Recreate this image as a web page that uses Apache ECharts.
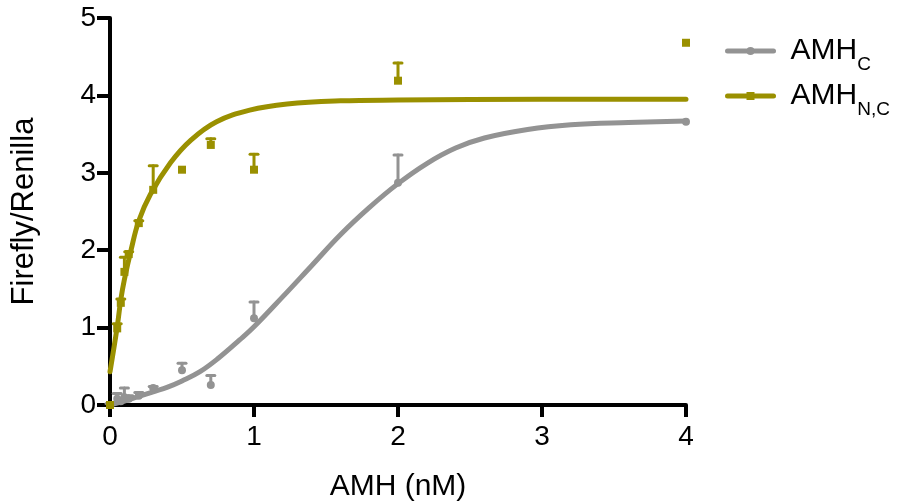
<!DOCTYPE html>
<html>
<head>
<meta charset="utf-8">
<script src="https://cdn.jsdelivr.net/npm/echarts@6/dist/echarts.min.js"></script>
<style>
  html, body { margin: 0; padding: 0; background: #fff; }
  #chart { width: 900px; height: 504px; }
</style>
</head>
<body>
<div id="chart"></div>
<script>
// Concentrations (nM) at which luciferase activity was measured
const doses = [0, 0.05, 0.075, 0.1, 0.13, 0.2, 0.3, 0.5, 0.7, 1, 2, 4];

// AMH_C: mean Firefly/Renilla ratio and upper error-bar end
const amhCMean = [0.0, 0.08, 0.05, 0.10, 0.08, 0.12, 0.22, 0.45, 0.26, 1.12, 2.87, 3.66];
const amhCUpper = [0.02, 0.15, 0.08, 0.22, 0.12, 0.16, 0.24, 0.54, 0.38, 1.33, 3.23, null];

// AMH_N,C: mean Firefly/Renilla ratio and upper error-bar end
const amhNCMean = [0.0, 0.99, 1.32, 1.72, 1.95, 2.35, 2.78, 3.04, 3.36, 3.04, 4.19, 4.68];
const amhNCUpper = [null, 1.05, 1.37, 1.91, 1.98, 2.38, 3.09, null, 3.44, 3.24, 4.42, null];

// Fitted dose-response curves, sampled along x
const fitCX = [0, 0.1, 0.2, 0.3, 0.4, 0.5, 0.625, 0.75, 0.9, 1.0, 1.2, 1.4, 1.6, 1.8, 2.0, 2.2, 2.4, 2.6, 2.9, 3.2, 3.6, 4.0];
const fitCY = [0.0, 0.05, 0.11, 0.17, 0.23, 0.31, 0.43, 0.6, 0.84, 1.01, 1.4, 1.8, 2.2, 2.55, 2.86, 3.12, 3.32, 3.45, 3.56, 3.62, 3.65, 3.67];
const fitNCX = [0, 0.05, 0.075, 0.1, 0.146, 0.2, 0.28, 0.42, 0.56, 0.74, 0.97, 1.23, 1.6, 2.0, 3.0, 4.0];
const fitNCY = [0.43, 1.01, 1.36, 1.62, 2.0, 2.38, 2.72, 3.13, 3.42, 3.66, 3.81, 3.89, 3.93, 3.94, 3.95, 3.95];

const xTicks = [0, 1, 2, 3, 4];
const yTicks = [0, 1, 2, 3, 4, 5];

const GRAY = '#939393';
const OLIVE = '#9a9000';

const pairs = (xs, ys) => xs.map((x, i) => [x, ys[i]]);
const errData = (means, uppers) =>
  doses.map((x, i) => [x, means[i], uppers[i]]).filter(d => d[2] !== null);

function errorBar(color) {
  return function (params, api) {
    const base = api.coord([api.value(0), api.value(1)]);
    const top = api.coord([api.value(0), api.value(2)]);
    const style = { stroke: color, lineWidth: 3, lineCap: 'round' };
    return {
      type: 'group',
      children: [
        { type: 'line', shape: { x1: base[0], y1: base[1], x2: top[0], y2: top[1] }, style },
        { type: 'line', shape: { x1: top[0] - 4, y1: top[1], x2: top[0] + 4, y2: top[1] }, style }
      ]
    };
  };
}

const chart = echarts.init(document.getElementById('chart'));
const FONT = 'Liberation Sans';

const legendText = {
  fontFamily: FONT,
  rich: {
    m: { fontSize: 30, color: '#000', fontFamily: FONT, verticalAlign: 'middle', padding: [0, 0, 0, 12] },
    s: { fontSize: 19, color: '#000', fontFamily: FONT, verticalAlign: 'middle', padding: [28, 0, 0, 0] }
  }
};
const legendCommon = {
  orient: 'vertical',
  left: 720,
  itemWidth: 46,
  itemHeight: 10,
  itemGap: 0,
  lineStyle: { width: 5, cap: 'round' },
  textStyle: legendText,
  formatter: name => name === 'AMH_C' ? '{m|AMH}{s|C}' : '{m|AMH}{s|N,C}'
};

chart.setOption({
  animation: false,
  textStyle: { fontFamily: FONT },
  grid: { left: 110, right: 214, top: 18, bottom: 99, containLabel: false, outerBoundsMode: 'none' },
  legend: [
    Object.assign({ data: ['AMH_C'], top: 31 }, legendCommon),
    Object.assign({ data: ['AMH_NC'], top: 76 }, legendCommon)
  ],
  xAxis: {
    type: 'value',
    min: 0, max: 4, interval: 1,
    name: 'AMH (nM)',
    nameLocation: 'middle',
    nameGap: 67,
    nameTextStyle: { fontSize: 30, color: '#000', fontFamily: FONT },
    axisLine: { show: true, onZero: false, lineStyle: { color: '#000', width: 4 } },
    axisTick: { show: true, length: 12, lineStyle: { color: '#000', width: 4 } },
    axisLabel: { fontSize: 28, color: '#000', margin: 18, fontFamily: FONT,
      formatter: v => xTicks.includes(v) ? String(v) : '' },
    splitLine: { show: false }
  },
  yAxis: {
    type: 'value',
    min: 0, max: 5, interval: 1,
    name: 'Firefly/Renilla',
    nameLocation: 'middle',
    nameGap: 70,
    nameTextStyle: { fontSize: 31, color: '#000', fontFamily: FONT },
    axisLine: { show: true, onZero: false, lineStyle: { color: '#000', width: 4 } },
    axisTick: { show: true, length: 13, lineStyle: { color: '#000', width: 4 } },
    axisLabel: { fontSize: 28, color: '#000', margin: 14, fontFamily: FONT,
      formatter: v => yTicks.includes(v) ? String(v) : '' },
    splitLine: { show: false }
  },
  series: [
    {
      name: 'AMH_C', type: 'line', data: pairs(fitCX, fitCY),
      smooth: 0.4, showSymbol: false, symbol: 'circle', symbolSize: 6,
      lineStyle: { color: GRAY, width: 5, cap: 'round' }, itemStyle: { color: GRAY }, z: 2
    },
    {
      name: 'AMH_NC', type: 'line', data: pairs(fitNCX, fitNCY),
      smooth: 0.4, showSymbol: false, symbol: 'rect', symbolSize: 6,
      lineStyle: { color: OLIVE, width: 5, cap: 'round' }, itemStyle: { color: OLIVE }, z: 2
    },
    {
      name: 'AMH_C', type: 'custom', renderItem: errorBar(GRAY),
      data: errData(amhCMean, amhCUpper), z: 3
    },
    {
      name: 'AMH_NC', type: 'custom', renderItem: errorBar(OLIVE),
      data: errData(amhNCMean, amhNCUpper), z: 3
    },
    {
      name: 'AMH_C', type: 'scatter', data: pairs(doses, amhCMean),
      symbol: 'circle', symbolSize: 8, itemStyle: { color: GRAY, opacity: 1 }, z: 4
    },
    {
      name: 'AMH_NC', type: 'scatter', data: pairs(doses, amhNCMean),
      symbol: 'rect', symbolSize: 8, itemStyle: { color: OLIVE, opacity: 1 }, z: 4
    }
  ]
});
</script>
</body>
</html>
